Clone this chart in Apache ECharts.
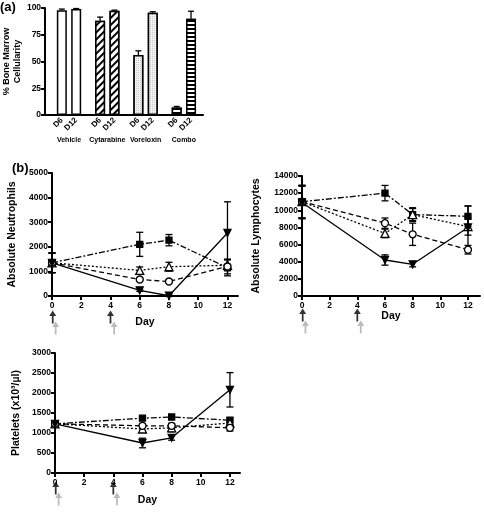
<!DOCTYPE html>
<html><head><meta charset="utf-8">
<script src="https://cdn.jsdelivr.net/npm/echarts@6/dist/echarts.min.js"></script>
<style>html,body{margin:0;padding:0;background:#fff}#c{width:484px;height:513px}</style>
</head><body><div id="c"></div>
<script>
// ---------- Panel (a) data ----------
const groups = ['Vehicle', 'Cytarabine', 'Voreloxin', 'Combo'];
const dayLabels = ['D6', 'D12'];
const cellularity = [[98, 99], [88, 97.5], [56, 95.5], [7, 90]];
const cellularityErr = [[1, 0.5], [3.5, 0.5], [4, 1], [1, 7]];
const cellTicks = [0, 25, 50, 75, 100];

// ---------- Panel (b) data ----------
const days = [0, 6, 8, 12];
const dayTicks = [0, 2, 4, 6, 8, 10, 12];
const doseDaysBlack = [0.05, 4];
const doseDaysGray = [0.25, 4.25];
const seriesNames = ['Vehicle', 'Cytarabine', 'Voreloxin', 'Combo'];

const neutroVehicle = [1350, 2100, 2270, 1150];
const neutroCytarabine = [1350, 1040, 1190, 1250];
const neutroVoreloxin = [1350, 670, 590, 1200];
const neutroCombo = [1350, 230, 10, 2560];
const neutroErrVehicle = [400, 490, 230, 330];
const neutroErrCytarabine = [400, 140, 180, 220];
const neutroErrVoreloxin = [400, 60, 50, 300];
const neutroErrCombo = [400, 40, 30, 1270];

const lymphVehicle = [11000, 12000, 9500, 9300];
const lymphCytarabine = [11000, 7300, 9500, 8100];
const lymphVoreloxin = [11000, 8500, 7200, 5400];
const lymphCombo = [10900, 4200, 3700, 8000];
const lymphErrVehicle = [1900, 900, 800, 1200];
const lymphErrCytarabine = [1900, 500, 700, 1000];
const lymphErrVoreloxin = [1900, 600, 1300, 500];
const lymphErrCombo = [1900, 600, 300, 2500];

const pltVehicle = [1230, 1370, 1400, 1320];
const pltCytarabine = [1230, 1100, 1130, 1250];
const pltVoreloxin = [1230, 1180, 1180, 1130];
const pltCombo = [1230, 750, 880, 2080];
const pltErrVehicle = [60, 30, 60, 60];
const pltErrCytarabine = [60, 40, 100, 60];
const pltErrVoreloxin = [60, 40, 60, 80];
const pltErrCombo = [60, 120, 60, 430];

// ---------- helpers ----------
const FONT = 'Liberation Sans, Arial, sans-serif';
const axisLine = { show: true, lineStyle: { color: '#000', width: 2 } };
const tick = { show: true, inside: false, length: 4, lineStyle: { color: '#000', width: 2 } };
const lbl = (fs) => ({ color: '#000', fontWeight: 'bold', fontSize: fs, fontFamily: FONT });
const plain = (v) => String(v);

const styles = [
  { symbol: 'rect', rotate: 0, type: [6, 2, 2, 2], fill: '#000', size: 6 },
  { symbol: 'triangle', rotate: 0, type: [2, 2], fill: '#fff', size: 8 },
  { symbol: 'circle', rotate: 0, type: [5, 3], fill: '#fff', size: 7 },
  { symbol: 'triangle', rotate: 180, type: 'solid', fill: '#000', size: 7 }
];

function errRender(params, api) {
  const x = api.value(0), lo = api.value(1), hi = api.value(2);
  const a = api.coord([x, lo]), b = api.coord([x, hi]);
  const hw = 3.5, st = { stroke: '#000', lineWidth: 1.3 };
  return { type: 'group', children: [
    { type: 'line', shape: { x1: a[0], y1: a[1], x2: b[0], y2: b[1] }, style: st },
    { type: 'line', shape: { x1: b[0] - hw, y1: b[1], x2: b[0] + hw, y2: b[1] }, style: st },
    { type: 'line', shape: { x1: a[0] - hw, y1: a[1], x2: a[0] + hw, y2: a[1] }, style: st }
  ] };
}

const arrowPath = 'path://M6,0 L12,11 L7.5,11 L7.5,26 L4.5,26 L4.5,11 L0,11 Z';

const grids = [];
const xAxes = [];
const yAxes = [];
const series = [];

// ---------- Panel (a) ----------
const nSlots = 33;
const slotOf = (g, d) => 3 + g * 8 + d * 3;
const groupCenter = (g) => (slotOf(g, 0) + slotOf(g, 1)) / 2 + 0.5;
const slotCats = Array.from({ length: nSlots }, () => '');
groups.forEach((g, gi) => dayLabels.forEach((d, di) => { slotCats[slotOf(gi, di)] = d; }));

const decals = [
  null,
  { symbol: 'rect', symbolSize: 1, dashArrayX: [1, 0], dashArrayY: [1.1, 3], rotation: -Math.PI / 4, color: '#000', backgroundColor: '#fff' },
  { symbol: 'circle', symbolSize: 0.9, dashArrayX: [[1, 1]], dashArrayY: [1, 1], rotation: 0, color: '#999', backgroundColor: '#f2f2f2' },
  { symbol: 'rect', symbolSize: 1, dashArrayX: [1, 0], dashArrayY: [1.3, 2], rotation: 0, color: '#000', backgroundColor: '#fff' }
];

grids.push({ left: 37, top: 8, width: 166, height: 107 });
xAxes.push({
  type: 'category', gridIndex: 0, data: slotCats, boundaryGap: true,
  axisLine: axisLine, axisTick: { show: false },
  axisLabel: Object.assign(lbl(8), { interval: 0, rotate: 45, margin: 4 })
});
xAxes.push({
  type: 'value', gridIndex: 0, min: 0, max: nSlots, position: 'bottom',
  axisLine: { show: false }, axisTick: { show: false }, splitLine: { show: false },
  axisLabel: Object.assign(lbl(7), {
    margin: 22,
    customValues: groups.map((g, gi) => groupCenter(gi)),
    formatter: (v) => { const gi = groups.findIndex((g, i) => groupCenter(i) === v); return gi >= 0 ? groups[gi] : ''; }
  })
});
yAxes.push({
  type: 'value', gridIndex: 0, min: 0, max: 100, interval: 25,
  name: '% Bone Marrow\nCellularity', nameLocation: 'middle', nameGap: 18,
  nameTextStyle: Object.assign(lbl(9), { lineHeight: 11 }),
  axisLine: axisLine, axisTick: tick, splitLine: { show: false },
  axisLabel: Object.assign(lbl(8.5), { margin: 4, formatter: plain })
});

const barData = slotCats.map(() => null);
const barErr = [];
groups.forEach((g, gi) => dayLabels.forEach((d, di) => {
  const s = slotOf(gi, di);
  const item = { value: cellularity[gi][di], itemStyle: { color: '#fff', borderColor: '#000', borderWidth: 1.5 } };
  if (decals[gi]) item.itemStyle.decal = decals[gi];
  barData[s] = item;
  barErr.push([s, cellularity[gi][di], cellularity[gi][di] + cellularityErr[gi][di]]);
}));
series.push({ type: 'bar', xAxisIndex: 0, yAxisIndex: 0, data: barData, barWidth: 10, z: 2 });
series.push({
  type: 'custom', xAxisIndex: 0, yAxisIndex: 0, data: barErr, z: 1,
  renderItem: (params, api) => {
    const x = api.value(0), lo = api.value(1), hi = api.value(2);
    const a = api.coord([x, lo]), b = api.coord([x, hi]);
    const st = { stroke: '#000', lineWidth: 1.3 };
    return { type: 'group', children: [
      { type: 'line', shape: { x1: a[0], y1: a[1], x2: b[0], y2: b[1] }, style: st },
      { type: 'line', shape: { x1: b[0] - 3, y1: b[1], x2: b[0] + 3, y2: b[1] }, style: st }
    ] };
  }
});

// ---------- Line panels ----------
function linePanel(cfg) {
  const gi = grids.length;
  grids.push(cfg.grid);
  const xi = xAxes.length, yi = yAxes.length;
  xAxes.push({
    type: 'value', gridIndex: gi, min: 0, max: cfg.xMax,
    name: 'Day', nameLocation: 'middle', nameGap: cfg.dayGap, nameTextStyle: lbl(10.5),
    axisLine: axisLine, splitLine: { show: false },
    axisTick: Object.assign({}, tick, { customValues: dayTicks }),
    axisLabel: Object.assign(lbl(cfg.fs), { margin: 5, customValues: dayTicks, formatter: plain })
  });
  yAxes.push({
    type: 'value', gridIndex: gi, min: 0, max: cfg.yMax, interval: cfg.yInt,
    name: cfg.yName, nameLocation: 'middle', nameGap: cfg.nameGap, nameTextStyle: lbl(10.5),
    axisLine: axisLine, axisTick: tick, splitLine: { show: false },
    axisLabel: Object.assign(lbl(cfg.fs), { margin: 4, formatter: plain })
  });
  cfg.values.forEach((vals, k) => {
    const st = styles[k];
    series.push({
      type: 'custom', xAxisIndex: xi, yAxisIndex: yi, z: 3, renderItem: errRender,
      data: days.map((d, i) => [d, vals[i] - cfg.errs[k][i], vals[i] + cfg.errs[k][i]])
    });
    series.push({
      type: 'line', name: seriesNames[k], xAxisIndex: xi, yAxisIndex: yi, z: 4,
      data: days.map((d, i) => [d, vals[i]]),
      symbol: st.symbol, symbolRotate: st.rotate, symbolSize: st.size, showAllSymbol: true,
      lineStyle: { color: '#000', width: 1.3, type: st.type },
      itemStyle: { color: st.fill, borderColor: '#000', borderWidth: 1.3 },
      emphasis: { disabled: true }
    });
  });
  series.push({
    type: 'scatter', xAxisIndex: xi, yAxisIndex: yi, clip: false, silent: true, z: 5,
    data: doseDaysBlack.map((d) => [d, 0]), symbol: arrowPath, symbolSize: [7, 13],
    symbolOffset: [0, cfg.arrowOff[0]], itemStyle: { color: '#000' }
  });
  series.push({
    type: 'scatter', xAxisIndex: xi, yAxisIndex: yi, clip: false, silent: true, z: 5,
    data: doseDaysGray.map((d) => [d, 0]), symbol: arrowPath, symbolSize: [7, 13],
    symbolOffset: [0, cfg.arrowOff[1]], itemStyle: { color: '#aaa' }
  });
}

linePanel({
  grid: { left: 52, top: 173, width: 186, height: 123 }, xMax: 12.72,
  yMax: 5000, yInt: 1000, yName: 'Absolute Neutrophils', nameGap: 34, fs: 8.5, dayGap: 21,
  arrowOff: [21, 32],
  values: [neutroVehicle, neutroCytarabine, neutroVoreloxin, neutroCombo],
  errs: [neutroErrVehicle, neutroErrCytarabine, neutroErrVoreloxin, neutroErrCombo]
});
linePanel({
  grid: { left: 302, top: 176, width: 178, height: 120 }, xMax: 12.87,
  yMax: 14000, yInt: 2000, yName: 'Absolute Lymphocytes', nameGap: 40, fs: 8.5, dayGap: 12,
  arrowOff: [19, 31],
  values: [lymphVehicle, lymphCytarabine, lymphVoreloxin, lymphCombo],
  errs: [lymphErrVehicle, lymphErrCytarabine, lymphErrVoreloxin, lymphErrCombo]
});
linePanel({
  grid: { left: 55, top: 353, width: 185, height: 120 }, xMax: 12.69,
  yMax: 3000, yInt: 500, yName: 'Platelets (x10\u00b3/\u00b5l)', nameGap: 33, fs: 8.5, dayGap: 22,
  arrowOff: [15, 26],
  values: [pltVehicle, pltCytarabine, pltVoreloxin, pltCombo],
  errs: [pltErrVehicle, pltErrCytarabine, pltErrVoreloxin, pltErrCombo]
});

const chart = echarts.init(document.getElementById('c'), null, { renderer: 'canvas' });
chart.setOption({
  animation: false,
  backgroundColor: '#fff',
  textStyle: { fontFamily: FONT },
  graphic: [
    { type: 'text', left: 0, top: 1, style: { text: '(a)', font: 'bold 13px ' + FONT, fill: '#000' } },
    { type: 'text', left: 12, top: 162, style: { text: '(b)', font: 'bold 13px ' + FONT, fill: '#000' } }
  ],
  grid: grids, xAxis: xAxes, yAxis: yAxes, series: series
});
</script></body></html>
